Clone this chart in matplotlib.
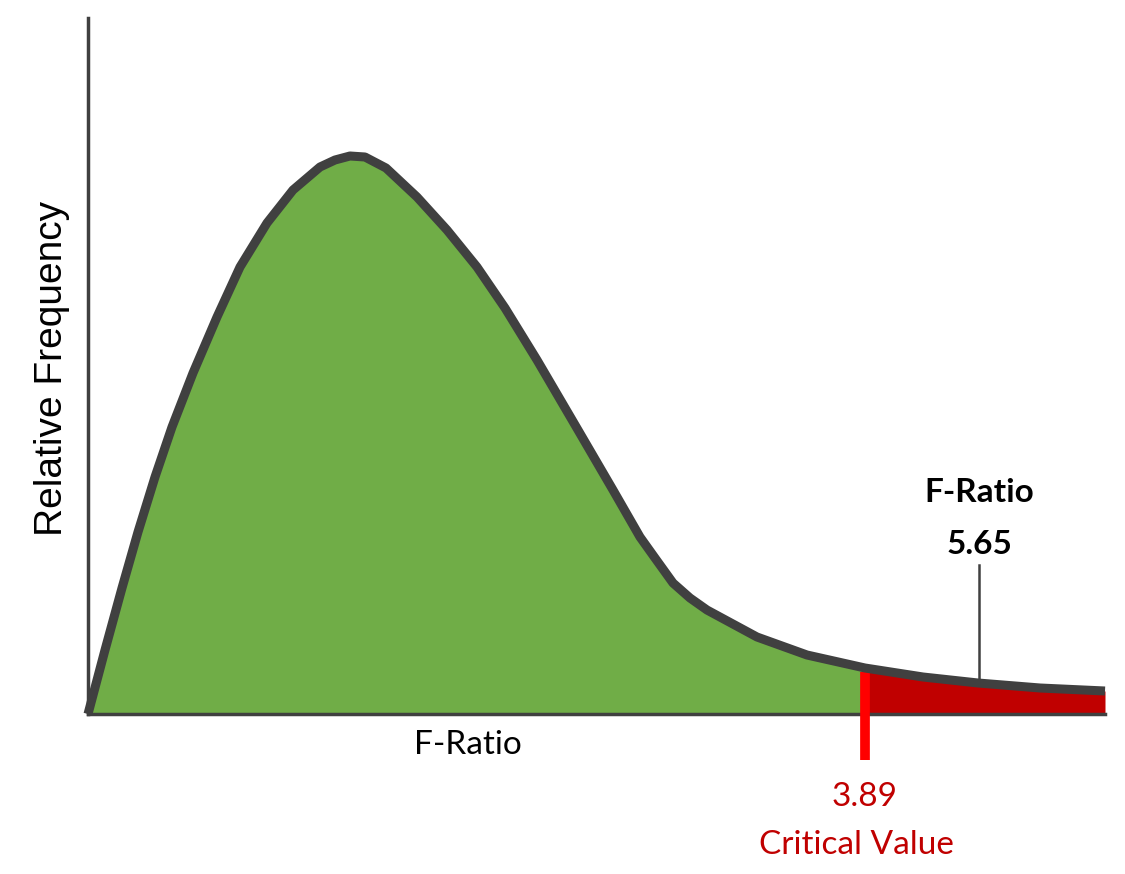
'''
F-distribution with critical value region
'''
import matplotlib
matplotlib.use("Agg")
import matplotlib.pyplot as plt
import numpy as np

# curve (arbitrary units: x 0..1017, y 0..696)
curve_x = [0, 17, 34, 50, 67, 84, 105, 129, 152, 179, 205, 232, 247, 262,
           277, 298, 329, 359, 389, 417, 449, 490, 525, 552, 567, 585, 602,
           619, 669, 719, 777, 835, 890, 952, 1017]
curve_y = [0, 64, 126, 182, 237, 287, 341, 397, 447, 491, 524, 547, 554, 558,
           557, 546, 517, 484, 447, 406, 354, 284, 224, 177, 156, 131, 116,
           104, 77, 59, 46, 37, 31, 26, 23]

crit_x = 777
crit_label = "3.89"
f_x = 891
f_label = "5.65"

green = "#70AD47"
red = "#C00000"
dark = "#404040"
label_red = "#C00000"

plt.rcParams['font.family'] = ['Lato', 'DejaVu Sans']

fig = plt.figure(figsize=(11.25, 8.74), dpi=100)
ax = fig.add_axes([88/1125, 1 - 714/874, (1105-88)/1125, (714-18)/874])

cx = np.array(curve_x)
cy = np.array(curve_y)
ax.fill_between(cx, 0, cy, where=cx <= crit_x, color=green, lw=0)
ax.fill_between(cx, 0, cy, where=cx >= crit_x, color=red, lw=0)

# critical value marker
ax.plot([crit_x, crit_x], [-46, 42], color="#FF0000", lw=7,
        solid_capstyle="butt", clip_on=False, zorder=3)
ax.plot(cx, cy, color=dark, lw=6.5, solid_joinstyle="round",
        solid_capstyle="butt", zorder=4, clip_on=False)

# F-ratio marker
ax.plot([f_x, f_x], [31, 149], color=dark, lw=1.8, zorder=3)
ax.text(f_x, 221, "F-Ratio", ha="center", va="center", fontsize=24,
        fontweight="bold", color="black")
ax.text(f_x, 169, f_label, ha="center", va="center", fontsize=24,
        fontweight="bold", color="black")

ax.text(crit_x, -83, crit_label, ha="center", va="center", fontsize=24,
        color=label_red, clip_on=False)
ax.text(crit_x - 9, -131, "Critical Value", ha="center", va="center",
        fontsize=24, color=label_red, clip_on=False)

ax.set_xlim(0, 1017)
ax.set_ylim(0, 696)
ax.set_xticks([])
ax.set_yticks([])
for s in ["top", "right"]:
    ax.spines[s].set_visible(False)
for s in ["left", "bottom"]:
    ax.spines[s].set_color(dark)
    ax.spines[s].set_linewidth(2.5)
ax.text(380, -31, "F-Ratio", ha="center", va="center", fontsize=24,
        color="black", clip_on=False)
ax.text(-36, 346, "Relative Frequency", ha="center", va="center",
        fontsize=28, rotation=90, family="Liberation Sans", clip_on=False)

fig.savefig("out.png", dpi=100)
